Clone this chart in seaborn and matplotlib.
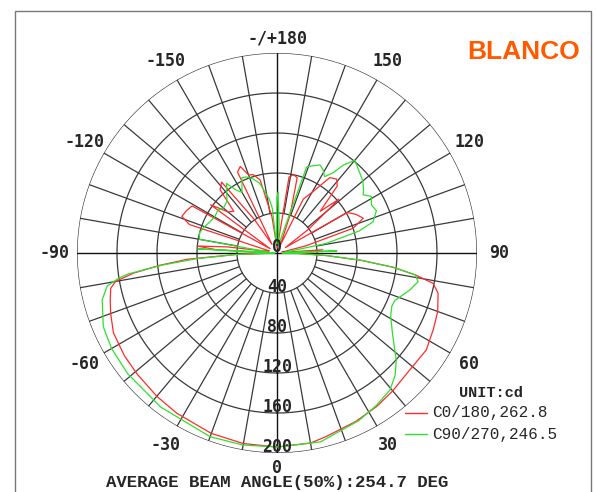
import numpy as np
import pandas as pd
import matplotlib.pyplot as plt
import seaborn as sns
from matplotlib.patches import Rectangle
from matplotlib.lines import Line2D

sns.set_style("white")
plt.rcParams['font.family'] = ['DejaVu Sans Mono', 'DejaVu Sans']

# C0/180 plane: angle (deg, 0 = straight down) -> intensity (cd)
c0_angle = [-180, -176, -172, -167, -163, -160, -157, -154, -150, -146, -142, -138,
            -134, -130, -126, -122, -119, -115, -111, -108, -105, -100, -97, -95,
            -93, -91, -90, -88, -86, -84, -82, -80, -78, -74, -70, -64, -56, -49,
            -40, -32, -20, -10, 0, 10, 15, 25, 33, 40, 48, 57, 64, 70, 76, 79, 81,
            83, 85, 87, 89, 90, 92, 94, 96, 100, 104, 108, 112, 116, 120, 123, 127,
            131, 134, 138, 141, 145, 150, 154, 157, 161, 165, 168, 171, 174, 177, 180]
c0_cd = [8, 10, 37, 75, 82, 83, 94, 90, 10, 40, 90, 85,
         60, 64, 82, 8, 97, 100, 102, 92, 8, 10, 50, 80,
         60, 10, 2, 40, 90, 118, 145, 164, 170, 173.5, 177, 182, 184, 185,
         187, 189, 192, 193.5, 194, 193, 190, 186, 183, 180, 177, 178, 174, 171, 166, 159, 140,
         117, 85, 50, 20, 5, 35, 46, 8, 5, 30, 80, 93, 88, 81, 10, 40,
         82, 60, 90, 95, 92, 70, 60, 8, 40, 78, 80, 77, 10, 5, 8]

# C90/270 plane
c90_angle = [-180, -177, -174, -172, -168, -166, -162, -158, -155, -150, -147, -144,
             -141, -136, -130, -126, -120, -115, -110, -105, -100, -96, -93, -91,
             -90, -88, -86, -84, -82, -81, -79, -75, -67, -60, -51, -37, -20, -10,
             0, 13, 26, 33, 39.5, 44, 48, 55, 61, 65, 68, 74.5, 78.5, 81, 83, 85,
             87, 89, 90, 92, 94, 97, 101, 105, 108, 113, 117, 121, 124, 126, 130,
             135, 140, 143, 145, 148, 151, 154, 157, 161, 164, 168, 172, 176, 179, 180]
c90_cd = [55, 8, 45, 54, 65, 72, 78, 82, 83, 70, 75, 86,
          80, 72, 70, 73, 72, 74, 77, 80, 79, 8, 79, 10,
          2, 40, 80, 115, 150, 160, 173, 181, 188.7, 191, 192, 193, 195.5, 195,
          194, 193.8, 186.5, 182, 177.6, 170, 160.5, 141, 130, 126.6, 127, 138, 144, 140, 117, 85,
          50, 20, 5, 60, 8, 10, 50, 85, 101, 108, 106, 110, 104, 107, 112,
          116, 121, 110, 98, 90, 95, 98, 95, 91, 20, 8, 10, 30, 61, 55]

ring_values = [40, 80, 120, 160, 200]
angle_ticks = [-150, -120, -90, -60, -30, 0, 30, 60, 90, 120, 150, 180]
angle_labels = ['-150', '-120', '-90', '-60', '-30', '0', '30', '60', '90', '120', '150', '-/+180']

df = pd.concat([
    pd.DataFrame({'theta': np.radians(c0_angle), 'cd': c0_cd, 'plane': 'C0/180'}),
    pd.DataFrame({'theta': np.radians(c90_angle), 'cd': c90_cd, 'plane': 'C90/270'}),
])

W, H = 596, 492
fig = plt.figure(figsize=(W / 100, H / 100), dpi=100)
cx, cy, R = 277, 253, 200
ax = fig.add_axes([(cx - R) / W, (H - cy - R) / H, 2 * R / W, 2 * R / H], projection='polar')
ax.set_theta_zero_location('S')
ax.set_theta_direction(1)
ax.set_ylim(0, 200)
ax.set_axis_off()

# grid
full = np.linspace(0, 2 * np.pi, 361)
for r in ring_values:
    ax.plot(full, [r] * len(full), color='#3a3a3a', lw=0.9, zorder=1)
for a in range(0, 360, 10):
    t = np.radians(a)
    if a % 90 == 0:
        ax.plot([t, t], [0, 200], color='#111111', lw=1.0, zorder=1)
    else:
        ax.plot([t, t], [40, 200], color='#3a3a3a', lw=0.9, zorder=1)

sns.lineplot(data=df, x='theta', y='cd', hue='plane', palette=['#ff2a2a', '#2ee02e'],
             sort=False, estimator=None, lw=0.9, legend=False, ax=ax, zorder=3)
ax.set_xlabel('')
ax.set_ylabel('')

# radial labels
ax.text(np.pi, 6, '0', ha='center', va='center', fontsize=12, fontweight='bold', zorder=4)
for r in ring_values:
    ax.text(0, r - 6, str(r), ha='center', va='center', fontsize=12, fontweight='bold', zorder=4)

# angle labels
for a, lab in zip(angle_ticks, angle_labels):
    rr = 215 if a in (0, 180) else 222
    ax.text(np.radians(a), rr, lab, ha='center', va='center', fontsize=12,
            fontweight='bold', clip_on=False)

# frame
fig.add_artist(Rectangle((15 / W, -0.05), (591 - 15) / W, (H - 11) / H + 0.05,
                         transform=fig.transFigure, fill=False, edgecolor='#777777', lw=1))

fig.text(524 / W, 1 - 52 / H, 'BLANCO', color='#ff5a00', fontsize=19, fontweight='bold',
         family='Liberation Sans', ha='center', va='center')

fig.text(459 / W, 1 - 393 / H, 'UNIT:cd', fontsize=11, fontweight='bold',
         family='Liberation Mono', ha='left', va='center')
fig.add_artist(Line2D([405 / W, 427 / W], [1 - 413 / H] * 2, color='#ff2a2a', lw=1,
                      transform=fig.transFigure))
fig.add_artist(Line2D([405 / W, 427 / W], [1 - 434 / H] * 2, color='#2ee02e', lw=1,
                      transform=fig.transFigure))
fig.text(432 / W, 1 - 413 / H, 'C0/180,262.8', fontsize=11.5,
         family='Liberation Mono', ha='left', va='center')
fig.text(432 / W, 1 - 434 / H, 'C90/270,246.5', fontsize=11.5,
         family='Liberation Mono', ha='left', va='center')

fig.text(277.5 / W, 1 - 483 / H, 'AVERAGE BEAM ANGLE(50%):254.7 DEG', fontsize=12.5,
         fontweight='bold', family='Liberation Mono', ha='center', va='center')

fig.savefig('out.png', dpi=100, facecolor='white')
